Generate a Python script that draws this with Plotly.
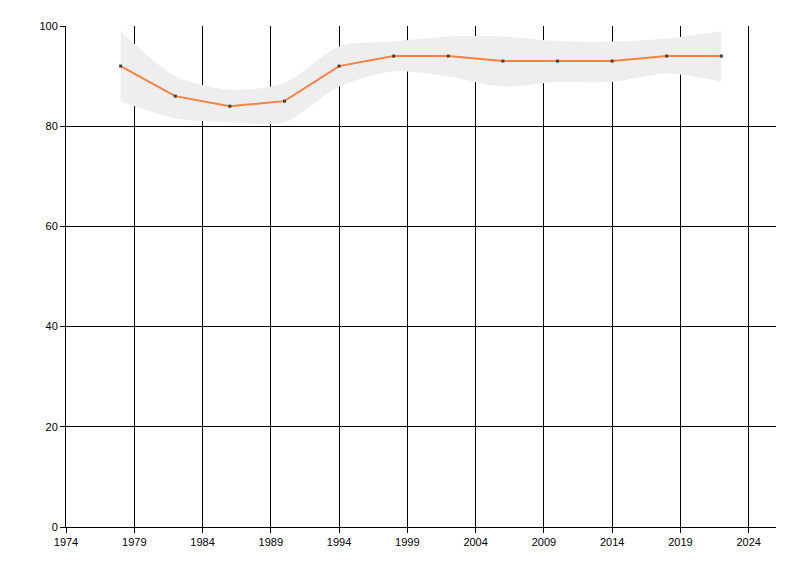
import plotly.graph_objects as go

# ─── Data ─────────────────────────────────────────────────────────────────────
years = [1978, 1982, 1986, 1990, 1994, 1998, 2002, 2006, 2010, 2014, 2018, 2022]
values = [92, 86, 84, 85, 92, 94, 94, 93, 93, 93, 94, 94]
band_upper = [99, 90, 87.3, 88.6, 95.9, 96.9, 97.9, 97.9, 97, 96.9, 97.5, 99]
band_lower = [85, 81.6, 80.8, 80.8, 87.9, 90.9, 89.9, 87.9, 88.8, 88.8, 90.5, 88.9]

fig = go.Figure()

# Confidence band
fig.add_trace(go.Scatter(
    x=years, y=band_lower, mode="lines",
    line=dict(width=0, shape="spline", smoothing=0.8),
    hoverinfo="skip", showlegend=False,
))
fig.add_trace(go.Scatter(
    x=years, y=band_upper, mode="lines", fill="tonexty",
    fillcolor="#eeeeee",
    line=dict(width=0, shape="spline", smoothing=0.8),
    hoverinfo="skip", showlegend=False,
))

# Main series
fig.add_trace(go.Scatter(
    x=years, y=values, mode="lines+markers",
    line=dict(color="#ff8040", width=2),
    marker=dict(color="#404040", size=3, symbol="square"),
    showlegend=False,
))

axis_font = dict(family="Liberation Sans, Arial, sans-serif", size=11, color="#000000")

# page body adds an 8px margin, so the figure is 8px smaller each way
fig.update_layout(
    width=792, height=568,
    margin=dict(l=58, r=24, t=18, b=49),
    plot_bgcolor="white",
    paper_bgcolor="white",
    xaxis=dict(
        range=[1974, 2026], tick0=1974, dtick=5,
        showgrid=True, gridcolor="#000000", gridwidth=1,
        showline=True, linecolor="#000000", linewidth=1,
        ticks="outside", ticklen=5, tickcolor="#000000",
        tickfont=axis_font, zeroline=False,
    ),
    yaxis=dict(
        range=[0, 100], tick0=0, dtick=20,
        showgrid=True, gridcolor="#000000", gridwidth=1,
        showline=True, linecolor="#000000", linewidth=1,
        ticks="outside", ticklen=5, tickcolor="#000000",
        tickfont=axis_font, zeroline=False,
    ),
)

fig.write_html("out.html")
